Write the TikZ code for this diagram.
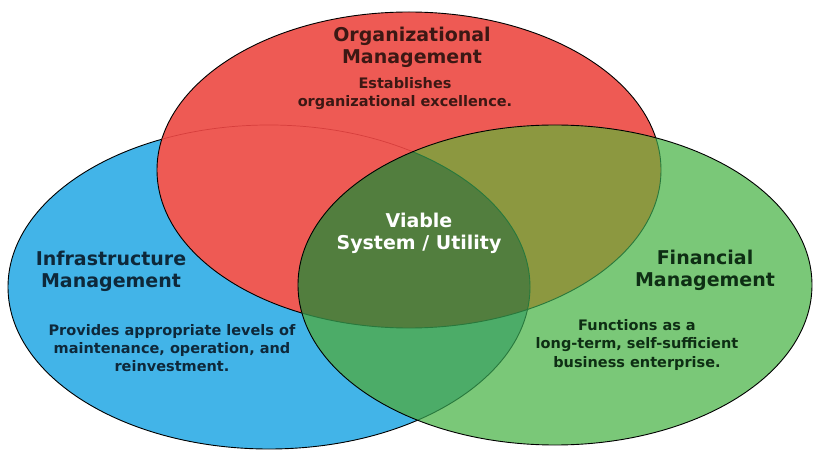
\documentclass[tikz,border=0pt]{standalone}
\usepackage{fontspec}
\setmainfont{DejaVu Sans}
\definecolor{orgred}{RGB}{238,90,84}
\definecolor{infrablue}{RGB}{66,180,232}
\definecolor{fingreen}{RGB}{122,200,120}
\definecolor{redgreen}{RGB}{140,152,64}
\definecolor{bluegreen}{RGB}{76,172,104}
\definecolor{coregreen}{RGB}{82,126,62}
\definecolor{rimgreen}{RGB}{40,120,60}
\definecolor{rimred}{RGB}{214,62,60}
\definecolor{inkred}{RGB}{60,24,20}
\definecolor{inkblue}{RGB}{14,40,58}
\definecolor{inkgreen}{RGB}{14,46,20}
\tikzset{
	orgsize/.style={x radius=252pt, y radius=158pt},
	infrasize/.style={x radius=261pt, y radius=162pt},
	finsize/.style={x radius=257pt, y radius=160pt},
	rim/.style={line width=0.9pt},
	heading/.style={inner sep=0pt, align=center, font=\bfseries\fontsize{19}{22}\selectfont},
	blurb/.style={inner sep=0pt, align=center, font=\bfseries\fontsize{14.5}{18}\selectfont},
}
\begin{document}
\begin{tikzpicture}[x=1pt,y=-1pt]
	\fill[white] (0,0) rectangle (817,454);
	\useasboundingbox (0,0) rectangle (817,454);
	\coordinate (orgc) at (409,170);
	\coordinate (infrac) at (269,287);
	\coordinate (finc) at (555,285);
	
	\filldraw[infrablue, draw=black, rim] (infrac) ellipse [infrasize];
	\filldraw[orgred, draw=black, rim] (orgc) ellipse [orgsize];
	\begin{scope}
		\clip (orgc) ellipse [orgsize];
		\draw[rimred, line width=0.7pt] (infrac) ellipse [infrasize];
	\end{scope}
	\fill[fingreen] (finc) ellipse [finsize];
	\begin{scope}
		\clip (orgc) ellipse [orgsize];
		\fill[redgreen] (finc) ellipse [finsize];
	\end{scope}
	\begin{scope}
		\clip (infrac) ellipse [infrasize];
		\fill[bluegreen] (finc) ellipse [finsize];
		\clip (orgc) ellipse [orgsize];
		\fill[coregreen] (finc) ellipse [finsize];
	\end{scope}
	\begin{scope}
		\clip (finc) ellipse [finsize];
		\draw[rimgreen, rim] (infrac) ellipse [infrasize];
		\draw[rimgreen, rim] (orgc) ellipse [orgsize];
	\end{scope}
	\draw[rim] (finc) ellipse [finsize];
	
	\node[heading, text=inkred] (orgtitle) at (412,47) {Organizational\\Management};
	\node[blurb, text=inkred] (orgtext) at (405,94) {Establishes\\organizational excellence.};
	\node[heading, text=inkblue] (infratitle) at (111,271) {Infrastructure\\Management};
	\node[blurb, text=inkblue] (infratext) at (172,348) {Provides appropriate levels of\\maintenance, operation, and\\reinvestment.};
	\node[heading, text=white] (core) at (419,233) {Viable\\System / Utility};
	\node[heading, text=inkgreen] (fintitle) at (705,270) {Financial\\Management};
	\node[blurb, text=inkgreen] (fintext) at (637,345) {Functions as a\\long-term, self-sufficient\\business enterprise.};
\end{tikzpicture}
\end{document}
